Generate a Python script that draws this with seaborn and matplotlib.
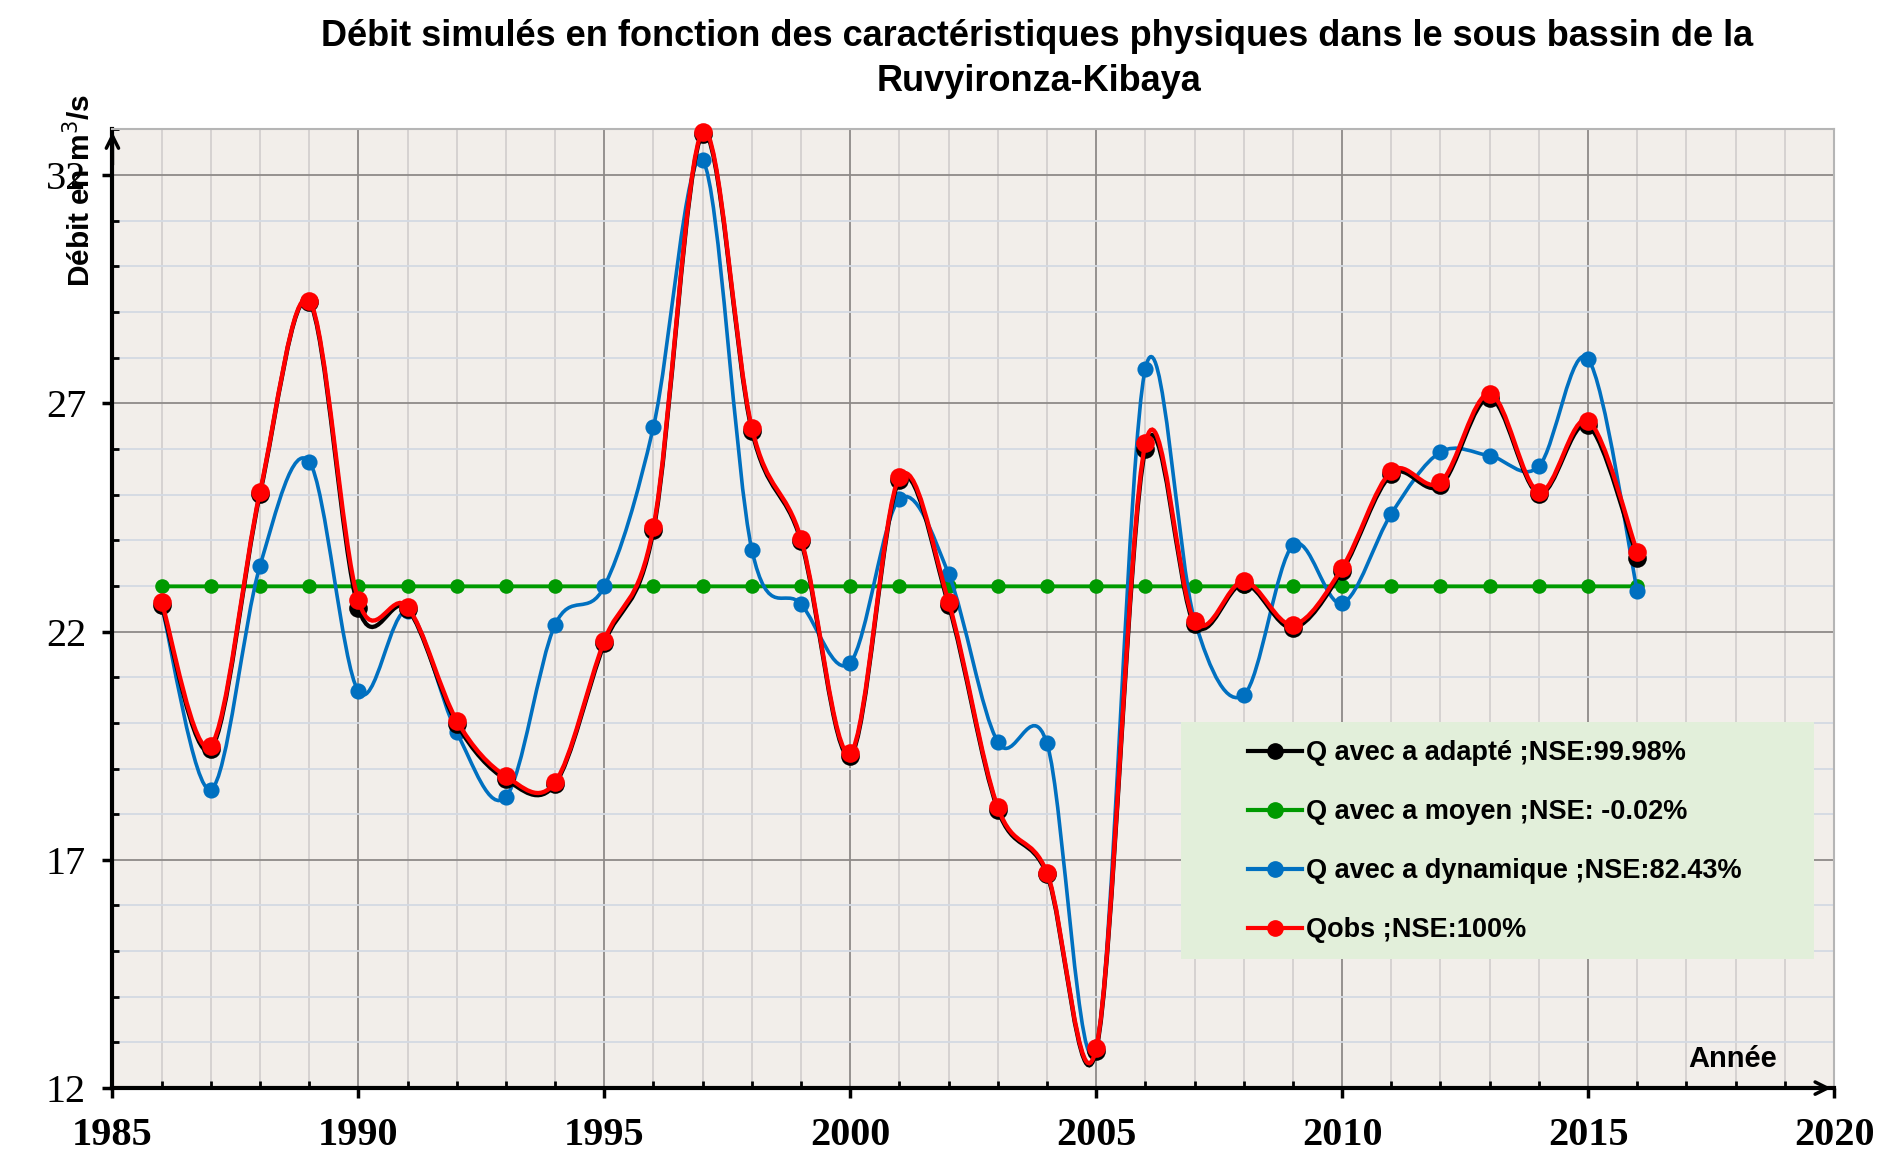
import matplotlib.pyplot as plt
import numpy as np
import seaborn as sns
from matplotlib.lines import Line2D
from matplotlib.patches import PathPatch, Rectangle
from matplotlib.path import Path

# Data
years = list(range(1986, 2017))

q_obs = [22.65, 19.50, 25.06, 29.25, 22.68, 22.54, 20.05, 18.83, 18.70, 21.80,
         24.29, 32.95, 26.46, 24.03, 19.34, 25.38, 22.65, 18.15, 16.72, 12.87,
         26.12, 22.23, 23.10, 22.15, 23.39, 25.51, 25.27, 27.21, 25.06, 26.62, 23.74]

q_adapte = [22.58, 19.42, 25.02, 29.22, 22.52, 22.50, 19.98, 18.76, 18.66, 21.74,
            24.22, 32.90, 26.40, 23.98, 19.28, 25.32, 22.58, 18.10, 16.68, 12.82,
            26.00, 22.16, 23.05, 22.08, 23.33, 25.44, 25.20, 27.12, 25.02, 26.52, 23.62]

q_moyen = [22.99, 22.99, 22.99, 22.99, 22.99, 22.99, 22.99, 22.99, 22.99, 22.99,
           22.99, 22.99, 22.99, 22.99, 22.99, 22.99, 22.99, 22.99, 22.99, 22.99,
           22.99, 22.99, 22.99, 22.99, 22.99, 22.99, 22.99, 22.99, 22.99, 22.99, 22.99]

q_dynamique = [22.57, 18.54, 23.44, 25.72, 20.69, 22.44, 19.79, 18.38, 22.15, 22.99,
               26.49, 32.32, 23.79, 22.60, 21.32, 24.90, 23.26, 19.58, 19.55, 12.90,
               27.76, 22.25, 20.61, 23.89, 22.62, 24.58, 25.93, 25.85, 25.62, 27.97, 22.89]

labels = ["Q avec a adapté ;NSE:99.98%",
          "Q avec a moyen ;NSE: -0.02%",
          "Q avec a dynamique ;NSE:82.43%",
          "Qobs ;NSE:100%"]

x_ticks = [1985, 1990, 1995, 2000, 2005, 2010, 2015, 2020]
y_ticks = [12, 17, 22, 27, 32]


def smooth_path(xs, ys):
    # Excel-style smoothed line: cubic Bezier through every point
    p = np.column_stack([xs, ys]).astype(float)
    n = len(p)
    verts = [p[0]]
    codes = [Path.MOVETO]
    for i in range(n - 1):
        prev = p[i - 1] if i > 0 else p[i]
        nxt = p[i + 2] if i + 2 < n else p[i + 1]
        c1 = p[i] + (p[i + 1] - prev) / 6.0
        c2 = p[i + 1] - (nxt - p[i]) / 6.0
        verts += [c1, c2, p[i + 1]]
        codes += [Path.CURVE4] * 3
    return Path(verts, codes)


fig = plt.figure(figsize=(18.96, 11.65), dpi=100)
ax = fig.add_axes([0.0593, 0.066, 0.908, 0.823])
ax.set_facecolor("#F2EEEA")

series = [
    (q_moyen, "#009A00", 2.8, 110, 2),
    (q_dynamique, "#0070C0", 2.6, 135, 3),
    (q_adapte, "black", 3.1, 180, 4),
    (q_obs, "#FF0000", 3.1, 180, 5),
]

for vals, color, lw, size, z in series:
    ax.add_patch(PathPatch(smooth_path(years, vals), facecolor="none",
                           edgecolor=color, lw=lw, zorder=z, capstyle="round"))
    sns.scatterplot(x=years, y=vals, ax=ax, color=color, s=size, linewidth=0,
                    zorder=z + 0.1, clip_on=False, legend=False)

ax.set_xlim(1985, 2020)
ax.set_ylim(12, 33)
ax.set_xticks(x_ticks)
ax.set_xticks(range(1985, 2021), minor=True)
ax.set_yticks(y_ticks)
ax.set_yticks(range(12, 34), minor=True)

ax.xaxis.grid(True, which="major", color="#8E8A88", lw=1.3, zorder=0)
ax.yaxis.grid(True, which="major", color="#8E8A88", lw=1.3, zorder=0)
ax.xaxis.grid(True, which="minor", color="#D3D0CF", lw=1.3, zorder=0)
ax.yaxis.grid(True, which="minor", color="#D4DAE3", lw=1.3, zorder=0)
ax.set_axisbelow(True)

ax.tick_params(which="major", direction="out", length=7, width=2.5, pad=12)
ax.tick_params(which="minor", direction="in", length=5, width=2)
ax.tick_params(axis="x", which="major", pad=14)

for lab in ax.get_xticklabels():
    lab.set_fontfamily("Liberation Serif")
    lab.set_fontweight("bold")
    lab.set_fontsize(29)
for lab in ax.get_yticklabels():
    lab.set_fontfamily("Liberation Serif")
    lab.set_fontsize(29)

for side in ["left", "bottom"]:
    ax.spines[side].set_linewidth(3)
    ax.spines[side].set_color("black")
for side in ["top", "right"]:
    ax.spines[side].set_linewidth(1.5)
    ax.spines[side].set_color("#B5B5B5")

# axis arrows
ax.annotate("", xy=(0, 1.0), xytext=(0, 0.96), xycoords="axes fraction",
            arrowprops=dict(arrowstyle="->", lw=2.5, color="black", mutation_scale=22))
ax.annotate("", xy=(1.0, 0), xytext=(0.98, 0), xycoords="axes fraction",
            arrowprops=dict(arrowstyle="->", lw=2.5, color="black", mutation_scale=22))

# titles and labels
fig.text(0.547, 0.969, "Débit simulés en fonction des caractéristiques physiques dans le sous bassin de la",
         ha="center", va="center", fontsize=26, fontweight="bold", family="Liberation Sans")
fig.text(0.548, 0.930, "Ruvyironza-Kibaya",
         ha="center", va="center", fontsize=26, fontweight="bold", family="Liberation Sans")
fig.text(0.0425, 0.836, "Débit en m$^{3}$/s", rotation=90, ha="center", va="center",
         fontsize=21.5, fontweight="bold", family="Liberation Sans")
ax.text(0.941, 0.03, "Année", transform=ax.transAxes, ha="center", va="center",
        fontsize=21, fontweight="bold", family="Liberation Sans")

# legend
ax.add_patch(Rectangle((0.6207, 0.1345), 0.3677, 0.2472, transform=ax.transAxes,
                       facecolor="#E2EFDA", edgecolor="none", zorder=6))
handles = [Line2D([], [], color=c, lw=3, marker="o", markersize=11)
           for c in ["black", "#009A00", "#0070C0", "#FF0000"]]
leg = ax.legend(handles, labels, loc="upper left", bbox_to_anchor=(0.6519, 0.377),
                bbox_transform=ax.transAxes, frameon=False, borderpad=0,
                handlelength=2.0, handletextpad=0.15, labelspacing=1.22,
                prop={"family": "Liberation Sans", "weight": "bold", "size": 19.5})
leg.set_zorder(7)

fig.savefig("out.png", dpi=100)
